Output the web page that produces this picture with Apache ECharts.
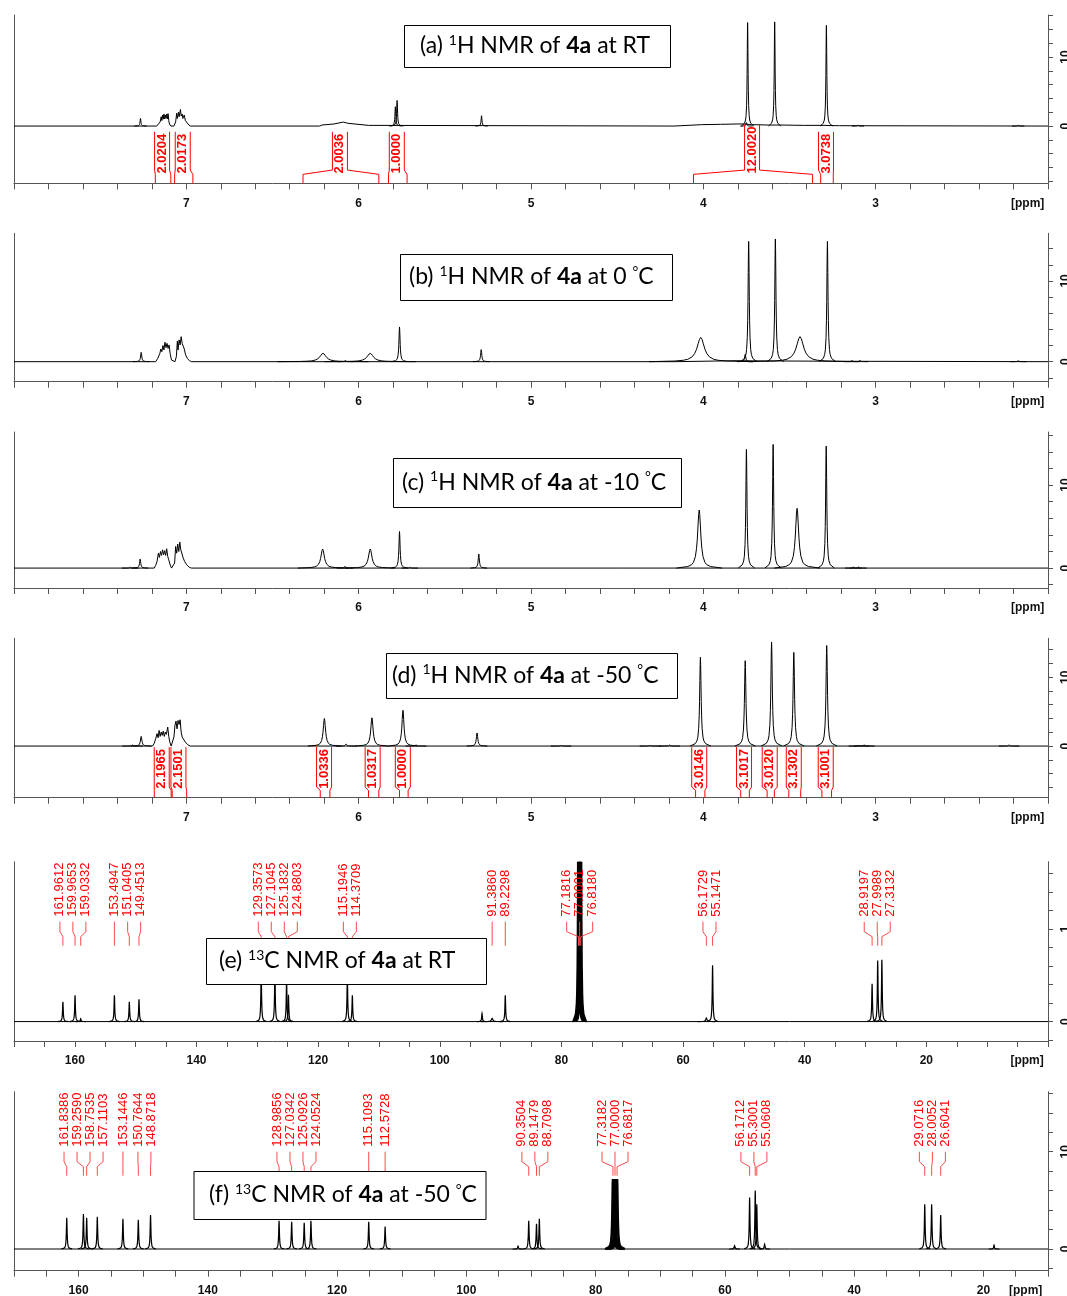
<!DOCTYPE html>
<html><head><meta charset="utf-8">
<script src="https://cdn.jsdelivr.net/npm/echarts@6/dist/echarts.min.js"></script>
<style>html,body{margin:0;padding:0;background:#fff}#c{width:1067px;height:1296px}</style>
</head><body><div id="c"></div>
<script>
// ---------------- data ----------------
const H_TICK_LABELS = [7, 6, 5, 4, 3];
const C_TICK_LABELS = [160, 140, 120, 100, 80, 60, 40, 20];

// traces: baseline and multiplets, [ppm, intensity]
const A_TRACE = [[8.0,0],[7.172,0],[7.162,0.3],[7.152,0.6],[7.146,1.35],[7.142,0.8],[7.138,1.6],[7.134,1.0],[7.130,1.75],[7.126,1.05],[7.122,1.6],[7.118,1.1],[7.114,1.75],[7.110,1.05],[7.106,1.8],[7.102,0.8],[7.098,0.3],[7.090,0],
 [7.072,0],[7.062,0.6],[7.056,1.85],[7.052,1.1],[7.046,2.0],[7.042,1.35],[7.034,2.4],[7.030,1.45],[7.024,1.75],[7.020,1.1],[7.012,1.6],[7.006,0.8],[6.998,0.6],[6.990,0.3],[6.978,0],
 [6.227,0],[6.213,0.15],[6.143,0.3],[6.089,0.58],[6.063,0.4],[5.943,0.1],[5.933,0],
 [4.17,0],[4.16,0.12],[4.01,0.2],[3.90,0.25],[3.80,0.3],[3.76,0.3],[3.72,0.2],[3.62,0.15],[3.55,0.15],[3.42,0.1],[3.30,0.1],[3.21,0.05],[3.20,0],[2.0,0]];
const B_TRACE = [[8.0,0],[7.178,0],[7.166,0.4],[7.154,1.0],[7.148,1.57],[7.142,1.24],[7.136,2.0],[7.130,1.45],[7.124,2.4],[7.118,1.74],[7.112,2.27],[7.106,1.65],[7.100,2.07],[7.094,1.0],[7.086,0.2],[7.078,0],
 [7.066,0],[7.058,0.62],[7.052,2.56],[7.048,1.45],[7.042,2.7],[7.036,2.07],[7.030,3.1],[7.024,2.27],[7.018,2.07],[7.012,1.57],[7.004,0.83],[6.994,0.4],[6.982,0.12],[6.970,0],
 [4.17,0],[4.16,0.08],[3.80,0.12],[3.70,0.1],[3.20,0.05],[3.19,0],[2.0,0]];
const C_TRACE = [[8.0,0],[7.186,0],[7.178,0.32],[7.170,0.8],[7.162,1.8],[7.156,1.29],[7.150,2.0],[7.144,1.53],[7.138,2.2],[7.132,1.6],[7.126,2.1],[7.120,1.53],[7.114,2.33],[7.108,1.4],[7.102,1.0],[7.094,0.4],[7.086,0],
 [7.076,0],[7.068,0.6],[7.062,2.6],[7.056,1.8],[7.050,2.9],[7.044,2.0],[7.038,3.13],[7.032,2.2],[7.026,2.33],[7.018,1.2],[7.010,0.8],[6.998,0.4],[6.982,0.08],[6.970,0],[2.0,0]];
const D_TRACE = [[8.0,0],[7.196,0],[7.186,0.43],[7.178,1.06],[7.170,1.8],[7.164,1.2],[7.158,2.27],[7.152,1.4],[7.146,2.03],[7.140,1.55],[7.134,2.17],[7.128,1.4],[7.122,2.03],[7.116,1.7],[7.108,2.75],[7.102,1.4],[7.096,0.58],[7.088,0],
 [7.082,0],[7.072,1.3],[7.066,3.0],[7.060,3.62],[7.054,2.5],[7.048,3.72],[7.042,3.14],[7.036,3.82],[7.030,2.03],[7.024,1.3],[7.016,1.06],[7.006,0.58],[6.992,0.2],[6.978,0],[2.0,0]];
const E_TRACE = [[170,0],[0,0]];
const F_TRACE = [[170,0],[10,0]];

// peaks: [ppm, height, half-width (ppm, optional), line width (optional)]
const A_PEAKS = [[7.266,1.1],[5.787,2.8],[5.777,3.7],[5.287,1.5],[3.750,0.5],[3.743,15.0],[3.586,15.1],[3.286,14.6],[3.103,0.15],[2.173,0.15]];
const B_PEAKS = [[7.262,1.15],[6.207,1.03,0.022],[6.077,0.15],[5.933,1.03,0.022],[5.763,4.3],[5.289,1.5],[4.015,3.0,0.025],[3.757,0.9],[3.737,14.9],[3.582,15.2],[3.439,3.1,0.025],[3.280,14.9],[3.137,0.15],[3.091,0.15],[2.173,0.12]];
const C_PEAKS = [[7.326,0.12],[7.268,1.1],[6.209,2.3,0.012],[6.079,0.2],[5.933,2.3,0.012],[5.763,4.4],[5.703,0.1],[5.303,1.7],[4.024,7.0,0.011],[3.750,14.3],[3.595,14.9],[3.456,7.2,0.011],[3.287,14.7],[3.13,0.12],[3.10,0.12]];
const D_PEAKS = [[7.312,0.15],[7.262,1.4],[6.199,4.0,0.008],[6.073,0.3],[5.923,4.1,0.008],[5.743,5.2,0.007],[5.667,0.15],[5.313,1.9],[4.826,0.1],[4.309,0.1],[4.196,0.15],[4.017,12.9],[3.757,12.4],[3.604,15.1],[3.475,13.6],[3.284,14.6],[3.097,0.1],[3.067,0.15],[2.226,0.15]];
const E_PEAKS = [[161.9612,0.213],[159.9653,0.285],[159.0332,0.03],[153.4947,0.285],[151.0405,0.213],[149.4513,0.242],[129.3573,0.55],[127.1045,0.55],[125.1832,0.45],[124.8803,0.29],[115.1946,0.5],[114.3709,0.285],[91.3860,0.035,0.15],[89.2298,0.285],[77.1816,3,0.07,2.5],[77.0001,3,0.07,2.5],[76.8180,3,0.07,2.5],[56.1729,0.04,0.12],[55.1471,0.61],[28.9197,0.41],[27.9989,0.66],[27.3132,0.67]];
const E_EXTRA = [[93.05,0.087],[77.0,0.2,0.1]];
const F_PEAKS = [[161.8386,3.2],[159.2590,3.6],[158.7535,3.2],[157.1103,3.3],[153.1446,3.1],[150.7644,3.0],[148.8718,3.5],[128.9856,2.9],[127.0342,2.8],[125.0926,2.7],[124.0524,2.9],[115.1093,2.8],[112.5728,2.3],[90.3504,2.9],[89.1479,2.6],[88.7098,3.1],[77.3182,7.2,0.1,2.5],[77.0000,7.2,0.1,2.5],[76.6817,7.2,0.1,2.5],[56.1712,5.3],[55.3001,6.0],[55.0608,4.6],[29.0716,4.6],[28.0052,4.6],[26.6041,3.5]];
const F_EXTRA = [[92.0,0.3],[77.0,0.4,0.12],[58.5,0.35],[53.85,0.5],[18.35,0.4]];

// integrals: [region from ppm, region to ppm, value]
const A_INTEGRALS = [[7.18,7.09,'2.0204'],[7.068,6.962,'2.0173'],[6.323,5.883,'2.0036'],[5.827,5.719,'1.0000'],[4.057,3.366,'12.0020'],[3.319,3.246,'3.0738']];
const D_INTEGRALS = [[7.186,7.088,'2.1965'],[7.082,6.998,'2.1501'],[6.223,6.167,'1.0336'],[5.943,5.883,'1.0317'],[5.763,5.713,'1.0000'],[4.045,3.991,'3.0146'],[3.783,3.733,'3.1017'],[3.630,3.588,'3.0120'],[3.504,3.435,'3.1302'],[3.312,3.256,'3.1001']];

const TITLES = [
 '{n|(a) }{sup|1}{n|H NMR of }{b|4a}{n| at RT}',
 '{n|(b) }{sup|1}{n|H NMR of }{b|4a}{n| at 0 }{sup|°}{n|C}',
 '{n|(c) }{sup|1}{n|H NMR of }{b|4a}{n| at -10 }{sup|°}{n|C}',
 '{n|(d) }{sup|1}{n|H NMR of }{b|4a}{n| at -50 }{sup|°}{n|C}',
 '{n|(e) }{sup|13}{n|C NMR of }{b|4a}{n| at RT}',
 '{n|(f) }{sup|13}{n|C NMR of }{b|4a}{n| at -50 }{sup|°}{n|C}'
];

// ---------------- layout / style ----------------
const AX = '#555';
const FONT = "'Liberation Sans', Arial, Helvetica, sans-serif";
const RED = '#ff0000';
const BOXES = [[404,25,266,42,420],[400,254,272,46,409],[393,458,288,49,402],[386,653,291,45,392],[206,938,280,46,219],[193.5,1171,292,48,209]];

const PANELS = [
 {top:15, h:168.3, x:[2,8], y:[-8.3,16.1], yt:[-8,16,2], yl:[0,10], xt:0.2, xl:H_TICK_LABELS, ppm:2.118, trace:A_TRACE, peaks:A_PEAKS, hw:0.003, ints:A_INTEGRALS, lay:{textBottom:47.5, mid:44, low:48.3}},
 {top:233.3, h:148.4, x:[2,8], y:[-2.48,15.9], yt:[-2,14,2], yl:[0,10], xt:0.2, xl:H_TICK_LABELS, ppm:2.118, trace:B_TRACE, peaks:B_PEAKS, hw:0.004},
 {top:432, h:156, x:[2,8], y:[-2.4,16.4], yt:[-2,16,2], yl:[0,10], xt:0.2, xl:H_TICK_LABELS, ppm:2.118, trace:C_TRACE, peaks:C_PEAKS, hw:0.004},
 {top:638.3, h:159.4, x:[2,8], y:[-7.5,15.65], yt:[-6,14,2], yl:[0,10], xt:0.2, xl:H_TICK_LABELS, ppm:2.118, trace:D_TRACE, peaks:D_PEAKS, hw:0.005, ints:D_INTEGRALS, lay:{textBottom:42.8, mid:41, low:44.3}},
 {top:861.7, h:179.3, x:[0,170], y:[-0.21,1.73], yt:[-0.2,1.6,0.2], yl:[0,1], xt:5, xl:C_TICK_LABELS, ppm:3.44, trace:E_TRACE, peaks:E_PEAKS, extra:E_EXTRA, hw:0.07, lw:1.2, labels:true},
 {top:1091.7, h:179, x:[10,170], y:[-2.23,16.17], yt:[-2,16,2], yl:[0,10], xt:5, xl:C_TICK_LABELS, ppm:13.45, trace:F_TRACE, peaks:F_PEAKS, extra:F_EXTRA, hw:0.07, lw:1.2, labels:true}
];

const mctx = document.createElement('canvas').getContext('2d');
function textW(t, font){ mctx.font = font; return mctx.measureText(t).width; }
function seq(a, b, s){ const out=[]; const n=Math.round((b-a)/s); for(let i=0;i<=n;i++) out.push(+(a+i*s).toFixed(4)); return out; }

// Lorentzian-like line shape template (offset in half-widths, fraction of height)
const SHAPE = [[-12,0],[-6,0.027],[-4,0.059],[-3,0.1],[-2,0.2],[-1.4,0.34],[-1,0.5],[-0.6,0.74],[-0.3,0.92],[0,1],[0.3,0.92],[0.6,0.74],[1,0.5],[1.4,0.34],[2,0.2],[3,0.1],[4,0.059],[6,0.027],[12,0]];

function renderPeak(params, api){
  const c=api.value(0), h=api.value(1), g=api.value(2), lw=api.value(3);
  const pts = SHAPE.map(s => api.coord([c + s[0]*g, h*s[1]]));
  return {type:'polyline', silent:true, shape:{points:pts}, style:{stroke:'#000', lineWidth:lw, fill:null}};
}

function makeIntegralRender(list, lay){
  const font = 'bold 13px ' + FONT;
  return function(params, api){
    const it = list[params.dataIndex];
    const cs = params.coordSys;
    const bottom = cs.y + cs.height;
    const pL = api.coord([it[0], 0]), pR = api.coord([it[1], 0]);
    const base = pL[1], xL = pL[0], xR = pR[0];
    const cx = (xL + xR)/2 - 1, hw = 7.5;
    const tb = base + lay.textBottom;
    const top = tb - textW(it[2], font) - 2;
    const mid = base + lay.mid, low = base + lay.low;
    return {type:'group', silent:true, children:[
      {type:'polyline', shape:{points:[[cx-hw,top],[cx-hw,mid],[xL,low],[xL,bottom]]}, style:{stroke:RED, lineWidth:1, fill:null}},
      {type:'polyline', shape:{points:[[cx+hw,top],[cx+hw,mid],[xR,low],[xR,bottom]]}, style:{stroke:RED, lineWidth:1, fill:null}},
      {type:'text', x:cx, y:tb, rotation:Math.PI/2, style:{text:it[2], font:font, fill:RED, align:'left', verticalAlign:'middle'}}
    ]};
  };
}

function makeLabelRender(list){
  const font = '13px ' + FONT;
  const S = 13;
  return function(params, api){
    const cs = params.coordSys;
    const items = list.map(p => ({txt:p[0].toFixed(4), px:api.coord([p[0],0])[0]})).sort((a,b)=>a.px-b.px);
    const groups = items.map(it => ({m:[it]}));
    const place = g => { const mean = g.m.reduce((s,it)=>s+it.px,0)/g.m.length; g.start = mean - (g.m.length-1)/2*S; };
    groups.forEach(place);
    let changed = true;
    while (changed){
      changed = false;
      for (let i=0;i<groups.length-1;i++){
        const a=groups[i], b=groups[i+1];
        if (b.start - (a.start + (a.m.length-1)*S) < S - 0.01){ a.m = a.m.concat(b.m); place(a); groups.splice(i+1,1); changed = true; break; }
      }
    }
    const y0 = cs.y, ch = [];
    groups.forEach(g => g.m.forEach((it,k) => {
      const lx = g.start + k*S;
      ch.push({type:'text', x:lx, y:y0+55, rotation:Math.PI/2, style:{text:it.txt, font:font, fill:RED, align:'left', verticalAlign:'middle'}});
      ch.push({type:'polyline', shape:{points:[[lx,y0+60],[lx,y0+70],[it.px,y0+75],[it.px,y0+84]]}, style:{stroke:'#ff4a4a', lineWidth:1, fill:null}});
    }));
    return {type:'group', silent:true, children:ch};
  };
}

// ---------------- option ----------------
const grid=[], xAxis=[], yAxis=[], series=[];
PANELS.forEach((p, i) => {
  grid.push({left:14, right:19, top:p.top, height:p.h, containLabel:false, outerBoundsMode:'none'});
  xAxis.push({gridIndex:i, type:'value', min:p.x[0], max:p.x[1], inverse:true,
    axisLine:{onZero:false, lineStyle:{color:AX, width:1}},
    axisTick:{customValues:seq(p.x[0], p.x[1], p.xt), length:6, lineStyle:{color:AX}},
    axisLabel:{customValues:p.xl.concat([p.ppm]), formatter:v => Number.isInteger(v) ? String(v) : '[ppm]',
      fontFamily:FONT, fontWeight:'bold', fontSize:12, color:'#111', margin:14},
    splitLine:{show:false}});
  yAxis.push({gridIndex:i, type:'value', position:'left', min:p.y[0], max:p.y[1],
    axisLine:{show:true, onZero:false, lineStyle:{color:AX}}, axisTick:{show:false}, axisLabel:{show:false}, splitLine:{show:false}});
  yAxis.push({gridIndex:i, type:'value', position:'right', min:p.y[0], max:p.y[1],
    axisLine:{show:true, onZero:false, lineStyle:{color:AX}},
    axisTick:{customValues:seq(p.yt[0], p.yt[1], p.yt[2]), length:5, lineStyle:{color:AX}},
    axisLabel:{customValues:p.yl, rotate:90, margin:12, fontFamily:FONT, fontWeight:'bold', fontSize:12, color:'#111'},
    splitLine:{show:false}});
  series.push({type:'line', xAxisIndex:i, yAxisIndex:2*i, data:p.trace, showSymbol:false, silent:true,
    lineStyle:{color:'#000', width:1}, z:3});
  const pk = p.peaks.concat(p.extra || []).map(q => [q[0], q[1], q[2] != null ? q[2] : p.hw, q[3] != null ? q[3] : (p.lw || 1)]);
  series.push({type:'custom', xAxisIndex:i, yAxisIndex:2*i, data:pk, renderItem:renderPeak, clip:true, silent:true, z:4});
  if (p.ints) series.push({type:'custom', xAxisIndex:i, yAxisIndex:2*i, data:p.ints.map(it => [it[0], 0]), renderItem:makeIntegralRender(p.ints, p.lay), silent:true, z:5});
  if (p.labels) series.push({type:'custom', xAxisIndex:i, yAxisIndex:2*i, data:[[p.x[1], 0]], renderItem:makeLabelRender(p.peaks), silent:true, z:5});
});

const RICH = {
  n:{fontFamily:'Lato', fontSize:23, color:'#000'},
  b:{fontFamily:'Lato', fontSize:23, fontWeight:'bold', color:'#000'},
  sup:{fontFamily:'Lato', fontSize:14, color:'#000', padding:[0,0,12,0]}
};
const graphic = TITLES.map((t, i) => {
  const b = BOXES[i];
  return {type:'group', z:100, silent:true, children:[
    {type:'rect', shape:{x:b[0]+0.5, y:b[1]+0.5, width:b[2], height:b[3]}, style:{fill:'#fff', stroke:'#000', lineWidth:1}, z:100},
    {type:'text', x:b[4], y:b[1]+b[3]/2, z:101, style:{text:t, rich:RICH, fill:'#000', font:'23px Lato', align:'left', verticalAlign:'middle'}}
  ]};
});

const chart = echarts.init(document.getElementById('c'), null, {renderer:'canvas'});
chart.setOption({animation:false, backgroundColor:'#fff', grid, xAxis, yAxis, series, graphic});
</script>
</body></html>
